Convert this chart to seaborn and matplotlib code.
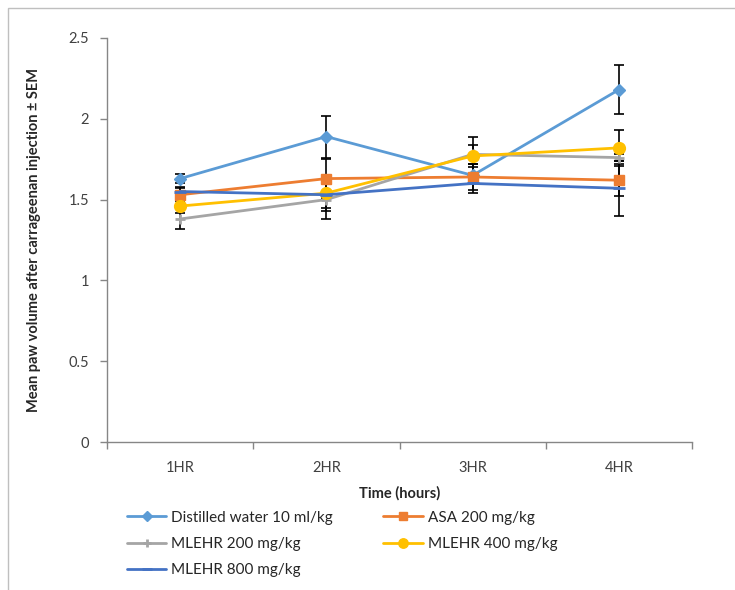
import numpy as np
import pandas as pd
import seaborn as sns
import matplotlib.pyplot as plt
from matplotlib.patches import Rectangle

# Data
times = ["1HR", "2HR", "3HR", "4HR"]
groups = ["Distilled water 10 ml/kg", "ASA 200 mg/kg", "MLEHR 200 mg/kg",
          "MLEHR 400 mg/kg", "MLEHR 800 mg/kg"]
distilled = [1.63, 1.89, 1.65, 2.18]
asa_200 = [1.53, 1.63, 1.64, 1.62]
mlehr_200 = [1.38, 1.50, 1.78, 1.76]
mlehr_400 = [1.46, 1.54, 1.77, 1.82]
mlehr_800 = [1.55, 1.53, 1.60, 1.57]
sem_distilled = [0.03, 0.13, 0.05, 0.15]
sem_asa_200 = [0.04, 0.12, 0.08, 0.10]
sem_mlehr_200 = [0.06, 0.12, 0.06, 0.02]
sem_mlehr_400 = [0.04, 0.09, 0.12, 0.11]
sem_mlehr_800 = [0.03, 0.10, 0.06, 0.17]

means = [distilled, asa_200, mlehr_200, mlehr_400, mlehr_800]
sems = [sem_distilled, sem_asa_200, sem_mlehr_200, sem_mlehr_400, sem_mlehr_800]

colors = ["#5B9BD5", "#ED7D31", "#A5A5A5", "#FFC000", "#4472C4"]
markers = ["D", "s", "+", "o", "_"]
msizes = [6, 7.5, 7, 8.5, 9]

sns.set_style("white")
plt.rcParams["font.family"] = ["Lato", "DejaVu Sans"]

fig = plt.figure(figsize=(7.35, 5.9), dpi=100)
ax = fig.add_axes([107 / 735, 1 - 442 / 590, 585 / 735, 404 / 590])

# outer chart frame
fig.patches.append(Rectangle((8 / 735, -0.05), 1.1, 1 - 8 / 590 + 0.05,
                             transform=fig.transFigure, fill=False,
                             edgecolor="#BFBFBF", linewidth=1))

pos = np.arange(len(times))
for name, m, s, c, mk, ms in zip(groups, means, sems, colors, markers, msizes):
    df = pd.DataFrame({"pos": pos, "value": m})
    ax.errorbar(pos, m, yerr=s, fmt="none", ecolor="black", elinewidth=1.2,
                capsize=3.5, capthick=1.2, zorder=2)
    sns.lineplot(data=df, x="pos", y="value", ax=ax, color=c, marker=mk,
                 markersize=ms, markeredgecolor=c, markeredgewidth=2 if mk in "+_" else 1,
                 linewidth=2, label=name, zorder=3)

handles, labels = ax.get_legend_handles_labels()
ax.get_legend().remove()
# row-major order for a 2-column legend
order = [0, 2, 4, 1, 3]
handles = [handles[i] for i in order]
labels = [labels[i] for i in order]

ax.set_xlim(-0.5, len(times) - 0.5)
ax.set_ylim(0, 2.5)
ax.set_yticks(np.arange(0, 2.51, 0.5))
ax.set_yticklabels(["0", "0.5", "1", "1.5", "2", "2.5"])
ax.set_xticks(pos)
ax.set_xticklabels(times)
ax.set_xticks(np.arange(-0.5, len(times), 1.0), minor=True)
ax.tick_params(axis="x", which="major", length=0, pad=14, labelsize=10.5, colors="#404040")
ax.tick_params(axis="x", which="minor", length=5, width=1, color="#868686", direction="out", bottom=True)
ax.tick_params(axis="y", length=5, width=1, color="#868686", direction="out", left=True,
               labelsize=10.5, labelcolor="#404040", pad=8)

for sp in ["top", "right"]:
    ax.spines[sp].set_visible(False)
for sp in ["left", "bottom"]:
    ax.spines[sp].set_color("#868686")
    ax.spines[sp].set_linewidth(1)

ax.set_xlabel("Time (hours)", fontweight="bold", fontsize=10.5, labelpad=8)
ax.set_ylabel("Mean paw volume after carrageenan injection \u00b1 SEM",
              fontweight="bold", fontsize=10.5, labelpad=20)

fig.legend(handles, labels, loc="upper left", bbox_to_anchor=(113 / 735, 1 - 497 / 590),
           ncol=2, frameon=False, fontsize=11, handlelength=2.6, markerscale=0.8,
           labelspacing=0.8, columnspacing=3.3, handletextpad=0.3)

plt.savefig("out.png", dpi=100)
